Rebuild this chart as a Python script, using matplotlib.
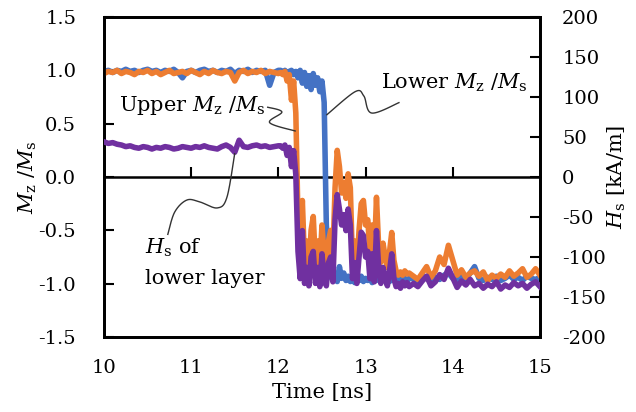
import numpy as np
import matplotlib
matplotlib.use("Agg")
import matplotlib.pyplot as plt
from matplotlib.path import Path
from matplotlib.patches import PathPatch

plt.rcParams['font.family'] = ['DejaVu Serif']
plt.rcParams['mathtext.fontset'] = 'dejavuserif'
plt.rcParams['axes.unicode_minus'] = False
plt.rcParams['font.size'] = 13

# sampling times [ns]: coarse on the plateaus, finer through the switching
t = np.round(np.concatenate([np.arange(10.0, 12.001, 0.05),
                             np.arange(12.025, 13.501, 0.025),
                             np.arange(13.55, 15.001, 0.05)]), 3)

# lower layer Mz/Ms
lower_mz = [0.99, 1.00, 0.98, 1.00, 0.99, 1.01, 0.99, 1.00, 0.98, 1.00,
            1.01, 0.99, 1.00, 0.98, 1.00, 0.99, 1.01, 0.98, 0.93, 0.99,
            1.00, 0.98, 1.00, 1.01, 0.99, 1.00, 0.98, 1.00, 0.99, 1.01,
            0.97, 1.00, 0.99, 1.01, 0.98, 1.00, 0.99, 1.00, 0.86, 0.98,
            1.00,
            1.00, 0.98, 1.00, 0.97, 0.99, 1.00, 0.96, 0.99, 0.93, 1.00,
            0.88, 0.98, 0.85, 0.95, 0.82, 0.97, 0.86, 0.93, 0.80, 0.90,
            0.70, -0.45, -0.75, -0.93, -0.97, -0.92, -0.98, -0.84, -0.95, -0.90,
            -0.97, -0.93, -0.98, -0.95, -0.99, -0.94, -0.97, -0.93, -0.98, -0.95,
            -0.97, -0.94, -0.99, -0.95, -0.97, -0.93, -0.98, -0.95, -0.97, -0.94,
            -0.98, -0.95, -0.97, -0.93, -0.96, -0.94, -0.97, -0.95, -0.98, -0.95,
            -0.95, -0.97, -0.93, -0.95, -0.98, -0.94, -0.96, -0.92, -0.90, -0.95,
            -0.97, -0.93, -0.96, -0.90, -0.84, -0.95, -0.97, -0.94, -0.96, -0.93,
            -0.97, -0.95, -0.92, -0.96, -0.94, -0.97, -0.93, -0.95, -0.96, -0.94]

# upper layer Mz/Ms
upper_mz = [0.97, 0.99, 0.98, 1.00, 0.97, 0.99, 0.98, 0.96, 0.99, 0.98,
            1.00, 0.97, 0.99, 0.96, 0.98, 1.00, 0.97, 0.98, 0.99, 0.97,
            1.00, 0.98, 0.96, 0.99, 0.97, 1.00, 0.98, 0.97, 0.99, 0.98,
            0.90, 0.98, 1.00, 0.97, 0.99, 0.98, 1.00, 0.97, 0.99, 0.98,
            0.97,
            0.98, 0.96, 0.99, 0.90, 0.96, 0.72, 0.90, 0.60, -0.40, -0.78,
            -0.22, -0.80, -0.60, -0.88, -0.50, -0.37, -0.80, -0.60, -0.85, -0.45,
            -0.75, -0.88, -0.60, -0.50, -0.75, -0.10, 0.25, 0.10, -0.15, -0.05,
            -0.20, 0.03, -0.10, -0.80, -0.60, -0.85, -0.50, -0.25, -0.22, -0.45,
            -0.40, -0.70, -0.45, -0.75, -0.19, -0.65, -0.80, -0.62, -0.75, -0.85,
            -0.70, -0.52, -0.78, -0.88, -0.92, -0.89, -0.92, -0.88, -0.91, -0.90,
            -0.93, -0.96, -0.90, -0.84, -0.94, -0.88, -0.75, -0.82, -0.64, -0.78,
            -0.92, -0.87, -0.94, -0.90, -0.88, -0.93, -0.89, -0.97, -0.92, -0.95,
            -0.91, -0.94, -0.88, -0.93, -0.90, -0.86, -0.94, -0.91, -0.86, -0.92]

# Hs of lower layer [kA/m]
hs_lower = [44, 42, 43, 41, 40, 38, 39, 37, 36, 38,
            37, 35, 37, 36, 38, 37, 35, 36, 38, 37,
            36, 38, 37, 39, 37, 36, 35, 38, 40, 37,
            31, 46, 38, 37, 39, 40, 38, 39, 37, 38,
            39,
            39, 36, 40, 27, 37, 13, 33, 3, -93, -127,
            -67, -133, -113, -136, -100, -93, -133, -113, -137, -96,
            -127, -136, -107, -100, -131, -53, -22, -40, -60, -47,
            -67, -40, -60, -127, -107, -133, -100, -69, -73, -100,
            -93, -127, -96, -131, -67, -113, -133, -113, -127, -136,
            -117, -96, -127, -137, -133, -139, -131, -136, -132, -137,
            -133, -137, -130, -124, -136, -131, -122, -128, -114, -126,
            -138, -130, -135, -128, -136, -133, -139, -134, -137, -131,
            -140, -135, -138, -132, -136, -133, -139, -134, -131, -137]

xticks = [10, 11, 12, 13, 14, 15]
yticks_left = [-1.5, -1.0, -0.5, 0.0, 0.5, 1.0, 1.5]
yticks_right = [-200, -150, -100, -50, 0, 50, 100, 150, 200]

c_blue = '#4472C4'
c_orange = '#ED7D31'
c_purple = '#7030A0'
LW = 4.0
LABEL_FS = 15


def wiggle(ax, pts, n=30):
    # smooth connector through the given waypoints (Catmull-Rom)
    p = np.array(pts, dtype=float)
    p = np.vstack([p[0], p, p[-1]])
    out = []
    for i in range(1, len(p) - 2):
        p0, p1, p2, p3 = p[i - 1], p[i], p[i + 1], p[i + 2]
        for s in np.linspace(0, 1, n, endpoint=False):
            out.append(0.5 * ((2 * p1) + (-p0 + p2) * s +
                              (2 * p0 - 5 * p1 + 4 * p2 - p3) * s ** 2 +
                              (-p0 + 3 * p1 - 3 * p2 + p3) * s ** 3))
    out.append(p[-2])
    ax.add_patch(PathPatch(Path(np.array(out)), fill=False, lw=1.0,
                           edgecolor='#333333', zorder=6))


fig = plt.figure(figsize=(6.36, 4.12), dpi=100)
ax = fig.add_axes([0.1635, 0.182, 0.6855, 0.7767])

ax.plot(t, lower_mz, color=c_blue, lw=LW, zorder=3)
ax.plot(t, upper_mz, color=c_orange, lw=LW, zorder=4)

ax.set_xlim(10, 15)
ax.set_ylim(-1.5, 1.5)
ax.set_xticks(xticks)
ax.set_yticks(yticks_left)
ax.set_yticklabels(['%.1f' % v for v in yticks_left])
ax.tick_params(axis='x', length=0, pad=16, labelsize=14)
ax.tick_params(axis='y', direction='in', length=7, width=1.5, pad=20, labelsize=14)
for s in ax.spines.values():
    s.set_linewidth(2)
ax.set_xlabel('Time [ns]', labelpad=4, fontsize=LABEL_FS)
ax.set_ylabel(r'$M_\mathrm{z}$ /$M_\mathrm{s}$', labelpad=0, fontsize=LABEL_FS)

# zero line carrying the time ticks
sec = ax.secondary_xaxis(0.5)
sec.set_xticks([11, 12, 13, 14])
sec.tick_params(direction='out', length=7, width=1.5, labeltop=False, labelbottom=False)
sec.spines['top'].set_linewidth(1.8)
sec.spines['bottom'].set_linewidth(1.8)

ax2 = ax.twinx()
ax2.plot(t, hs_lower, color=c_purple, lw=LW, zorder=5)
ax2.set_ylim(-200, 200)
ax2.set_yticks(yticks_right)
ax2.tick_params(axis='y', direction='in', length=7, width=1.5, pad=16, labelsize=14)
for s in ax2.spines.values():
    s.set_linewidth(2)
ax2.set_ylabel(r'$H_\mathrm{s}$ [kA/m]', labelpad=0, fontsize=LABEL_FS)

ax.text(10.17, 0.675, r'Upper $M_\mathrm{z}$ /$M_\mathrm{s}$', va='center',
        fontsize=LABEL_FS, zorder=7)
ax.text(13.18, 0.88, r'Lower $M_\mathrm{z}$ /$M_\mathrm{s}$', va='center',
        fontsize=LABEL_FS, zorder=7)
ax.text(10.47, -0.66, r'$H_\mathrm{s}$ of', va='center', fontsize=LABEL_FS, zorder=7)
ax.text(10.47, -0.95, 'lower layer', va='center', fontsize=LABEL_FS, zorder=7)

ax2.set_zorder(ax.get_zorder() + 1)
wiggle(ax2, [(11.87, 0.656 * 133.3), (12.04, 0.61 * 133.3), (11.90, 0.51 * 133.3),
             (12.20, 0.43 * 133.3)], n=20)
wiggle(ax2, [(12.55, 0.58 * 133.3), (12.88, 0.80 * 133.3), (12.98, 0.76 * 133.3),
             (13.07, 0.60 * 133.3), (13.39, 0.70 * 133.3)])
wiggle(ax2, [(10.73, -0.544 * 133.3), (10.81, -0.33 * 133.3), (10.95, -0.216 * 133.3),
             (11.10, -0.234 * 133.3), (11.30, -0.29 * 133.3), (11.41, -0.19 * 133.3),
             (11.50, 0.225 * 133.3)])

fig.savefig('out.png', dpi=100)
